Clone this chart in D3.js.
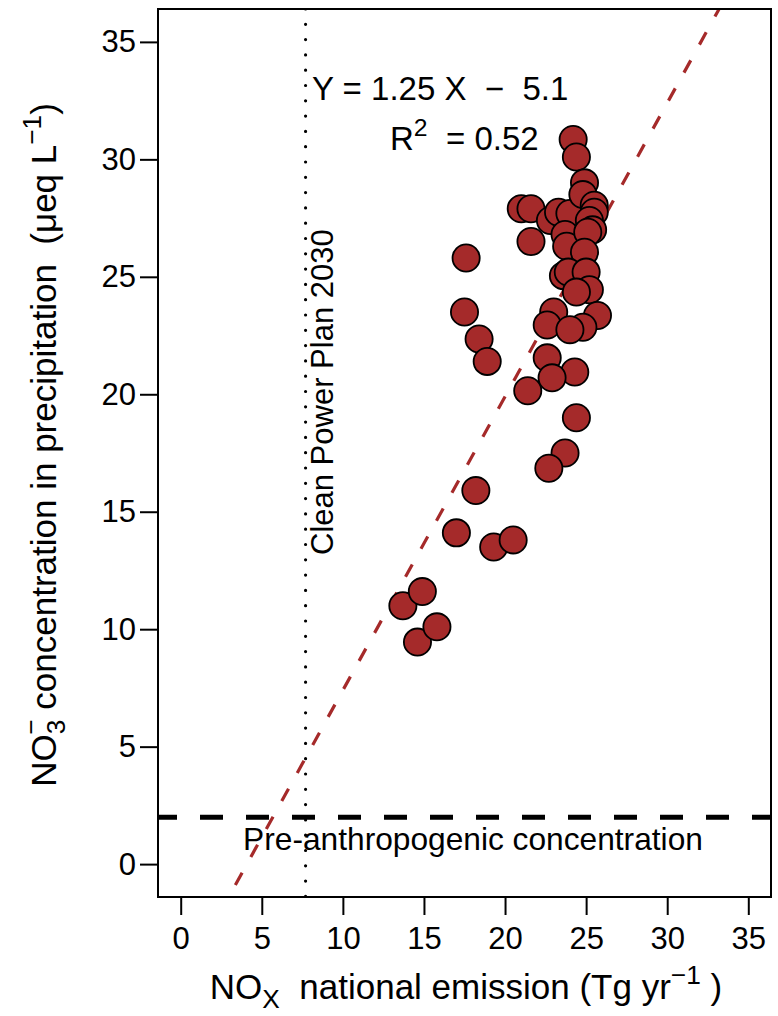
<!DOCTYPE html>
<html>
<head>
<meta charset="utf-8">
<script src="https://cdn.jsdelivr.net/npm/d3@7"></script>
<style>
  body { margin: 0; background: #fff; }
  text { font-family: "Liberation Sans", Arial, sans-serif; }
</style>
</head>
<body>
<div class="chart-container"></div>
<script>
// NOx emission (Tg/yr) and NO3- concentration (ueq/L)
const emission = [13.7, 14.9, 14.6, 15.8, 17.0, 18.2, 19.3, 20.5,
  17.5, 17.6, 18.4, 18.9, 21.4,
  21.0, 21.6, 21.6, 22.8, 23.3, 24.0, 24.2, 24.4, 24.9, 24.8, 25.5, 25.5, 25.2, 25.4,
  23.7, 23.8, 25.1, 24.9, 23.6, 23.9, 25.0, 25.2, 24.4, 23.0, 25.7, 22.6, 24.8, 24.0,
  22.6, 24.3, 22.9, 24.4, 23.7, 22.7];
const concentration = [11.0, 11.6, 9.45, 10.1, 14.1, 15.9, 13.5, 13.8,
  23.5, 25.8, 22.35, 21.4, 20.15,
  27.9, 27.9, 26.5, 27.4, 27.75, 27.7, 30.85, 30.1, 29.0, 28.5, 28.05, 27.75, 27.4, 27.0,
  26.8, 26.3, 26.9, 26.05, 25.05, 25.2, 25.2, 24.45, 24.35, 23.5, 23.35, 22.95, 22.85, 22.75,
  21.55, 20.95, 20.7, 19.0, 17.5, 16.85];

const xTicks = [0, 5, 10, 15, 20, 25, 30, 35];
const yTicks = [0, 5, 10, 15, 20, 25, 30, 35];

// regression and reference lines
const fitSlope = 1.25, fitIntercept = -5.1, fitR2 = 0.52;
const cleanPowerPlan = 7.7;     // Tg/yr, vertical dotted line
const preAnthropogenic = 2.0;   // ueq/L, horizontal dashed line

const width = 778, height = 1016;
const mLeft = 158, mRight = 771, mTop = 9, mBottom = 897;
const fs = 31, fsTitle = 35, fsNote = 33;

const svg = d3.select('.chart-container').append('svg')
    .attr('width', width)
    .attr('height', height);

const x = d3.scaleLinear().domain([-1.4, 36.4]).range([mLeft, mRight]);
const y = d3.scaleLinear().domain([-1.4, 36.4]).range([mBottom, mTop]);

svg.append('clipPath').attr('id', 'plotclip')
  .append('rect')
    .attr('x', mLeft).attr('y', mTop)
    .attr('width', mRight - mLeft).attr('height', mBottom - mTop);

// axes
const xAxis = svg.append('g')
    .attr('transform', 'translate(0,' + mBottom + ')')
    .call(d3.axisBottom(x).tickValues(xTicks).tickSize(18).tickPadding(12));
const yAxis = svg.append('g')
    .attr('transform', 'translate(' + mLeft + ',0)')
    .call(d3.axisLeft(y).tickValues(yTicks).tickSize(18).tickPadding(4));

[xAxis, yAxis].forEach(a => {
  a.select('.domain').remove();
  a.selectAll('line').attr('stroke', '#000').attr('stroke-width', 2);
  a.selectAll('text').attr('font-size', fs).attr('fill', '#000')
    .style('font-family', '"Liberation Sans", Arial, sans-serif');
});

const plot = svg.append('g').attr('clip-path', 'url(#plotclip)');

// clean power plan line
plot.append('line')
    .attr('x1', x(cleanPowerPlan)).attr('x2', x(cleanPowerPlan))
    .attr('y1', mTop).attr('y2', mBottom)
    .attr('stroke', '#000').attr('stroke-width', 3.2)
    .attr('stroke-linecap', 'round')
    .attr('stroke-dasharray', '0,15.3');

// pre-anthropogenic line
plot.append('line')
    .attr('x1', mLeft).attr('x2', mRight)
    .attr('y1', y(preAnthropogenic)).attr('y2', y(preAnthropogenic))
    .attr('stroke', '#000').attr('stroke-width', 5)
    .attr('stroke-dasharray', '23,23')
    .attr('stroke-dashoffset', 4);

// regression line
const fitX = [-1.4, 36.4];
plot.append('line')
    .attr('x1', x(fitX[0])).attr('y1', y(fitSlope * fitX[0] + fitIntercept))
    .attr('x2', x(fitX[1])).attr('y2', y(fitSlope * fitX[1] + fitIntercept))
    .attr('stroke', '#a52a2a').attr('stroke-width', 3.2)
    .attr('stroke-dasharray', '14,18');

// points
plot.append('g')
  .selectAll('circle')
  .data(emission)
  .enter()
  .append('circle')
    .attr('cx', d => x(d))
    .attr('cy', (d, i) => y(concentration[i]))
    .attr('r', 13.6)
    .attr('fill', '#a52a2a')
    .attr('stroke', '#000')
    .attr('stroke-width', 1.8);

// box
svg.append('rect')
    .attr('x', mLeft).attr('y', mTop)
    .attr('width', mRight - mLeft).attr('height', mBottom - mTop)
    .attr('fill', 'none').attr('stroke', '#000').attr('stroke-width', 2);

// annotations
svg.append('text')
    .attr('x', 312).attr('y', 100)
    .attr('font-size', fsNote)
    .style('white-space', 'pre')
    .text('Y = ' + fitSlope + ' X  \u2212  ' + Math.abs(fitIntercept));

const r2 = svg.append('text')
    .attr('x', 390).attr('y', 150)
    .attr('font-size', fsNote)
    .style('white-space', 'pre');
r2.append('tspan').text('R');
r2.append('tspan').attr('font-size', fsNote * 0.75).attr('dy', -14).text('2');
r2.append('tspan').attr('dy', 14).text('  = ' + fitR2);

svg.append('text')
    .attr('transform', 'translate(' + 333 + ',' + 555 + ') rotate(-90)')
    .attr('font-size', fs)
    .text('Clean Power Plan 2030');

svg.append('text')
    .attr('x', 473).attr('y', 850)
    .attr('text-anchor', 'middle')
    .attr('font-size', 31.7)
    .text('Pre-anthropogenic concentration');

// x title
const xt = svg.append('text')
    .attr('x', 466).attr('y', 999)
    .attr('text-anchor', 'middle')
    .attr('font-size', fsTitle)
    .style('white-space', 'pre');
xt.append('tspan').text('NO');
xt.append('tspan').attr('font-size', fsTitle * 0.75).attr('dy', 9).text('X');
xt.append('tspan').attr('dy', -9).text('  national emission (Tg yr');
xt.append('tspan').attr('font-size', fsTitle * 0.75).attr('dy', -15).text('\u22121');
xt.append('tspan').attr('dy', 15).text(' )');

// y title
const yt = svg.append('text')
    .attr('transform', 'translate(56,445) rotate(-90)')
    .attr('text-anchor', 'middle')
    .attr('font-size', fsTitle)
    .style('white-space', 'pre');
yt.append('tspan').text('NO');
yt.append('tspan').attr('font-size', fsTitle * 0.75).attr('dy', 9).text('3');
yt.append('tspan').attr('font-size', fsTitle * 0.75).attr('dx', -15).attr('dy', -25).text('\u2212');
yt.append('tspan').attr('dy', 16).text(' concentration in precipitation  (\u03bceq L');
yt.append('tspan').attr('font-size', fsTitle * 0.75).attr('dy', -15).text('\u22121');
yt.append('tspan').attr('dy', 15).text(')');
</script>
</body>
</html>
